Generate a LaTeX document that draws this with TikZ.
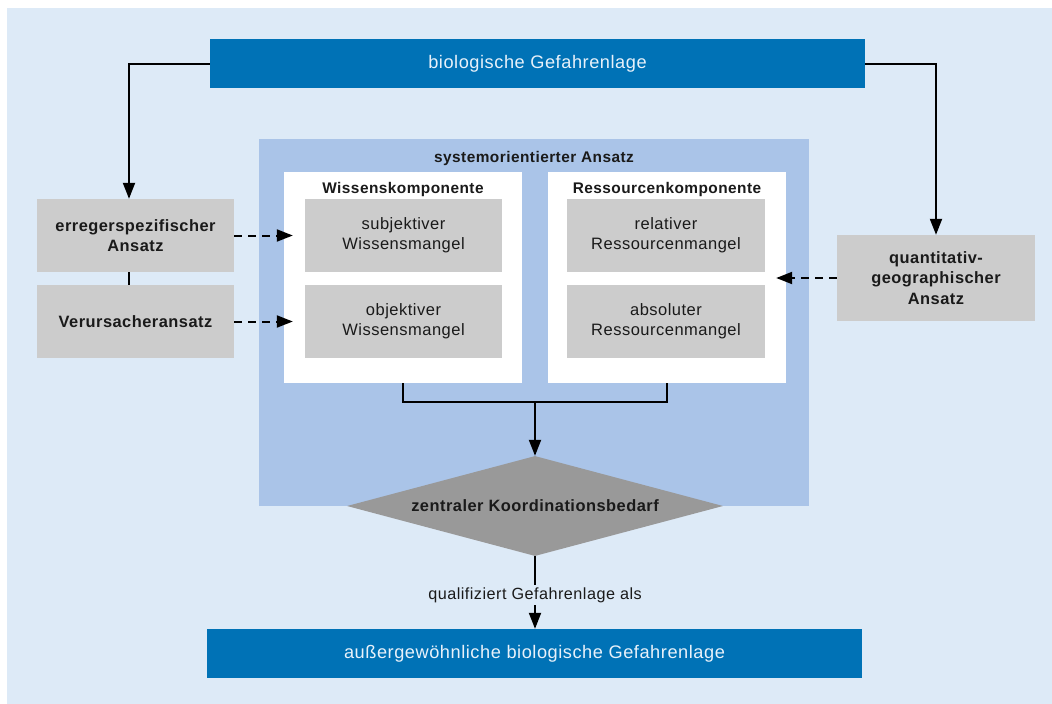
\documentclass[tikz,border=0pt]{standalone}
\usepackage{fontspec}
\setmainfont{Liberation Sans}[LetterSpace=3]
\usetikzlibrary{arrows.meta,shapes.geometric,calc}
\definecolor{bg}{HTML}{DDEAF7}
\definecolor{cont}{HTML}{AAC4E8}
\definecolor{dblue}{HTML}{0072B6}
\definecolor{boxgray}{HTML}{CCCCCC}
\definecolor{diagray}{HTML}{999999}
\definecolor{txt}{HTML}{1A1A1A}
\definecolor{ltxt}{HTML}{E8F1FA}
\tikzset{
  gbox/.style={fill=boxgray, minimum width=197pt, minimum height=73pt, inner sep=0pt, align=center, text=txt, font=\fontsize{16.5}{20}\selectfont},
  bbox/.style={gbox, font=\bfseries\fontsize{16.4}{20.5}\selectfont},
  bluebar/.style={fill=dblue, minimum width=655pt, minimum height=49pt, inner sep=0pt, text=ltxt, font=\fontsize{18.2}{20}\selectfont},
  whitebox/.style={fill=white, minimum width=238pt, minimum height=211pt, inner sep=0pt},
  title/.style={anchor=base, text=txt, font=\bfseries\fontsize{15.4}{18}\selectfont, inner sep=0pt},
  conn/.style={line width=2pt, draw=black},
  arr/.style={conn, -{Triangle[length=16pt,width=12pt]}},
  darr/.style={arr, dash pattern=on 8pt off 6pt},
}
\begin{document}
\begin{tikzpicture}[x=1pt,y=-1pt]
\useasboundingbox (0,0) rectangle (1052,704);
\fill[white] (0,0) rectangle (1052,704);
\fill[bg] (7,8) rectangle (1052,704);
% container
\node[fill=cont, minimum width=550pt, minimum height=367pt, inner sep=0pt] (sys) at (534,322.5) {};
\node[title] (systitle) at (534,162) {systemorientierter Ansatz};
\node[whitebox] (wis) at (403,277.5) {};
\node[whitebox] (res) at (667,277.5) {};
\node[title] (wistitle) at (403,193) {Wissenskomponente};
\node[title] (restitle) at (667,193) {Ressourcenkomponente};
% inner boxes
\node[gbox] (subj) at (403.5,235.5) {subjektiver\\Wissensmangel};
\node[gbox] (obj) at (403.5,321.5) {objektiver\\Wissensmangel};
\node[gbox, minimum width=198pt] (rel) at (666,235.5) {relativer\\Ressourcenmangel};
\node[gbox, minimum width=198pt] (abs) at (666,321.5) {absoluter\\Ressourcenmangel};
% outer boxes
\node[bluebar] (top) at (537.5,63.5) {biologische Gefahrenlage};
\node[bluebar] (bottom) at (534.5,653.5) {außergewöhnliche biologische Gefahrenlage};
\node[bbox] (err) at (135.5,235.5) {erregerspezifischer\\Ansatz};
\node[bbox] (ver) at (135.5,321.5) {Verursacheransatz};
\node[bbox, minimum width=198pt, minimum height=86pt] (quant) at (936,278) {quantitativ-\\geographischer\\Ansatz};
% diamond
\node[diamond, aspect=3.76, fill=diagray, minimum width=376pt, minimum height=100pt, inner sep=0pt, text=txt, font=\bfseries\fontsize{16.4}{18}\selectfont] (dia) at (535,506) {zentraler Koordinationsbedarf};
% connectors
\draw[arr] (top.west) -| ([xshift=-6.5pt]err.north);
\draw[arr] (top.east) -| (quant.north);
\draw[conn] ([xshift=-6.5pt]err.south) -- ([xshift=-6.5pt]ver.north);
\draw[darr, shorten >=12pt] (err.east) -- (subj.west);
\draw[darr, shorten >=12pt] (ver.east) -- (obj.west);
\draw[darr, shorten >=-10pt] (quant.west) -- (quant.west -| res.east);
\coordinate (jn) at (535,402);
\draw[conn] (wis.south) |- (jn) -| (res.south);
\draw[arr] (jn) -- (dia.north);
\draw[arr] (dia.south) -- (dia.south |- bottom.north) node[pos=0.54, fill=bg, inner sep=2.5pt, text=txt, font=\fontsize{16.2}{18}\selectfont] (lbl) {qualifiziert Gefahrenlage als};
\end{tikzpicture}
\end{document}
